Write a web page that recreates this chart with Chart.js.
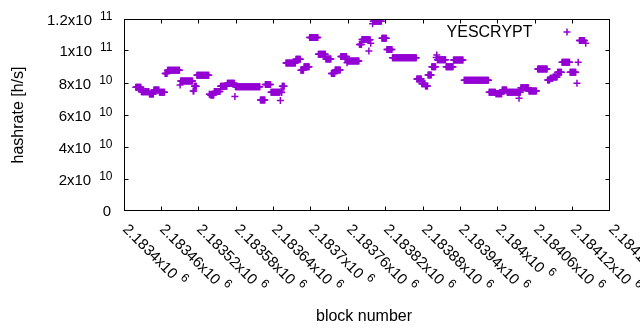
<!DOCTYPE html>
<html>
<head>
<meta charset="utf-8">
<script src="https://cdn.jsdelivr.net/npm/chart.js@4"></script>
<style>
  html, body { margin: 0; padding: 0; background: #fff; }
  canvas { display: block; }
</style>
</head>
<body>
<canvas id="chart" width="640" height="330"></canvas>
<script>
const runFirstBlock = [
  2183419, 2183428, 2183441, 2183448, 2183457, 2183466, 2183470, 2183490, 2183491, 2183511,
  2183513, 2183517, 2183537, 2183539, 2183545, 2183555, 2183566, 2183578, 2183579, 2183619,
  2183627, 2183636, 2183651, 2183652, 2183653, 2183654, 2183660, 2183676, 2183684, 2183689,
  2183698, 2183712, 2183724, 2183733, 2183739, 2183748, 2183758, 2183759, 2183778, 2183782,
  2183793, 2183794, 2183796, 2183799, 2183800, 2183814, 2183822, 2183831, 2183870, 2183878,
  2183884, 2183888, 2183894, 2183901, 2183902, 2183903, 2183917, 2183929, 2183946, 2183986,
  2183997, 2184007, 2184015, 2184034, 2184035, 2184037, 2184050, 2184064, 2184080, 2184084,
  2184089, 2184096, 2184103, 2184116, 2184127, 2184129, 2184131, 2184141
];
const runLastBlock = [
  2183427, 2183440, 2183447, 2183456, 2183465, 2183469, 2183489, 2183490, 2183510, 2183512,
  2183516, 2183536, 2183538, 2183544, 2183554, 2183565, 2183577, 2183578, 2183618, 2183626,
  2183635, 2183650, 2183651, 2183652, 2183653, 2183657, 2183675, 2183683, 2183688, 2183697,
  2183711, 2183723, 2183732, 2183738, 2183747, 2183757, 2183758, 2183777, 2183781, 2183792,
  2183793, 2183795, 2183796, 2183799, 2183813, 2183821, 2183830, 2183869, 2183877, 2183883,
  2183887, 2183893, 2183900, 2183901, 2183902, 2183916, 2183928, 2183944, 2183985, 2183996,
  2184006, 2184014, 2184033, 2184034, 2184036, 2184049, 2184062, 2184079, 2184083, 2184088,
  2184095, 2184102, 2184115, 2184125, 2184127, 2184129, 2184139, 2184141
];
const runHashrate = [
  7.73e10, 7.46e10, 7.31e10, 7.56e10, 7.42e10, 8.6e10, 8.79e10, 7.88e10, 8.13e10, 7.5e10,
  7.8e10, 8.48e10, 7.3e10, 7.25e10, 7.47e10, 7.8e10, 7.98e10, 7.15e10, 7.76e10, 6.93e10,
  7.9e10, 7.42e10, 6.9e10, 7.5e10, 7.4e10, 7.8e10, 9.25e10, 9.48e10, 8.8e10, 9.02e10,
  1.085e11, 9.79e10, 9.5e10, 8.6e10, 8.81e10, 9.65e10, 9.27e10, 9.38e10, 1.04e11, 1.072e11,
  1.0e11, 1.07e11, 1.048e11, 1.17e11, 1.186e11, 1.08e11, 1.01e11, 9.58e10, 8.25e10, 7.96e10,
  7.81e10, 8.5e10, 9.02e10, 9.6e10, 9.75e10, 9.46e10, 9.02e10, 9.44e10, 8.17e10, 7.42e10,
  7.33e10, 7.56e10, 7.42e10, 7.05e10, 7.42e10, 7.71e10, 7.5e10, 8.88e10, 8.19e10, 8.3e10,
  8.38e10, 8.67e10, 9.29e10, 8.67e10, 7.98e10, 9.29e10, 1.065e11, 1.048e11
];

const xTicks = [
  2183400, 2183460, 2183520, 2183580, 2183640, 2183700, 2183760,
  2183820, 2183880, 2183940, 2184000, 2184060, 2184120, 2184180
];
const yTicks = [0, 2e10, 4e10, 6e10, 8e10, 1e11, 1.2e11];

const seriesName = 'YESCRYPT';
const xTitle = 'block number';
const yTitle = 'hashrate [h/s]';

// one point per block
const points = [];
runFirstBlock.forEach((first, i) => {
  for (let b = first; b <= runLastBlock[i]; b++) points.push({ x: b, y: runHashrate[i] });
});

const FONT = '"Liberation Sans", Arial, sans-serif';
const PURPLE = '#9400d3';
const TICK = 4;

function sciLabel(v) {
  if (v === 0) return { base: '0', exp: '' };
  const e = Math.floor(Math.log10(Math.abs(v)) + 1e-9);
  const m = parseFloat((v / Math.pow(10, e)).toPrecision(8));
  return { base: m + 'x10', exp: String(e) };
}

// gnuplot look: closed border, inward ticks, superscript tick labels, key inside
const gnuplotFrame = {
  id: 'gnuplotFrame',
  afterDraw(chart) {
    const ctx = chart.ctx, a = chart.chartArea;
    const xs = chart.scales.x, ys = chart.scales.y;
    const left = Math.floor(a.left), right = Math.ceil(a.right) - 1;
    const top = Math.floor(a.top), bottom = Math.ceil(a.bottom) - 1;
    ctx.save();
    ctx.strokeStyle = '#000';
    ctx.lineWidth = 1;
    ctx.strokeRect(left + 0.5, top + 0.5, right - left, bottom - top);
    ctx.beginPath();
    xTicks.forEach(v => {
      const c = Math.min(Math.floor(xs.getPixelForValue(v)), right) + 0.5;
      ctx.moveTo(c, bottom + 0.5); ctx.lineTo(c, bottom + 0.5 - TICK);
      ctx.moveTo(c, top + 0.5); ctx.lineTo(c, top + 0.5 + TICK);
    });
    yTicks.forEach(v => {
      const r = Math.min(Math.floor(ys.getPixelForValue(v)), bottom) + 0.5;
      ctx.moveTo(left + 0.5, r); ctx.lineTo(left + 0.5 + TICK, r);
      ctx.moveTo(right + 0.5, r); ctx.lineTo(right + 0.5 - TICK, r);
    });
    ctx.stroke();

    ctx.fillStyle = '#000';
    const mainFont = '15px ' + FONT, supFont = '12px ' + FONT;

    // y tick labels
    ctx.textBaseline = 'alphabetic';
    ctx.textAlign = 'right';
    yTicks.forEach(v => {
      const y = Math.min(Math.floor(ys.getPixelForValue(v)), bottom);
      const lab = sciLabel(v);
      if (!lab.exp) {
        ctx.font = mainFont;
        ctx.fillText(lab.base, 111, y + 6);
        return;
      }
      ctx.font = supFont;
      const sw = ctx.measureText(lab.exp).width;
      ctx.fillText(lab.exp, 112.5, y + 1);
      ctx.font = mainFont;
      ctx.fillText(lab.base, 112.5 - sw - 8, y + 6);
    });

    // x tick labels, turned 45 degrees
    ctx.textAlign = 'left';
    xTicks.forEach(v => {
      const x = Math.floor(xs.getPixelForValue(v));
      const lab = sciLabel(v);
      ctx.save();
      ctx.translate(x - 2, 230);
      ctx.rotate(Math.PI / 4);
      ctx.font = mainFont;
      ctx.fillText(lab.base, 0, 0);
      const w = ctx.measureText(lab.base).width;
      ctx.font = supFont;
      ctx.fillText(lab.exp, w + 5, -7);
      ctx.restore();
    });

    // axis titles
    ctx.font = '16px ' + FONT;
    ctx.textAlign = 'center';
    ctx.fillText(xTitle, 364, 321);
    ctx.save();
    ctx.translate(23, 115);
    ctx.rotate(-Math.PI / 2);
    ctx.fillText(yTitle, 0, 0);
    ctx.restore();

    // key
    ctx.textAlign = 'right';
    ctx.fillText(seriesName, 532.5, 37);
    ctx.strokeStyle = PURPLE;
    ctx.lineWidth = 1.5;
    ctx.beginPath();
    ctx.moveTo(563.5, 32); ctx.lineTo(570.5, 32);
    ctx.moveTo(567, 28.5); ctx.lineTo(567, 35.5);
    ctx.stroke();
    ctx.restore();
  }
};

const chart = new Chart(document.getElementById('chart'), {
  type: 'scatter',
  data: {
    datasets: [{
      label: seriesName,
      data: points,
      pointStyle: 'cross',
      pointRadius: 3.5,
      pointHoverRadius: 3.5,
      borderWidth: 1.5,
      borderColor: PURPLE,
      backgroundColor: PURPLE
    }]
  },
  options: {
    responsive: false,
    animation: false,
    events: [],
    layout: { padding: { left: 0, top: 19, right: 30, bottom: 0 } },
    plugins: { legend: { display: false }, tooltip: { enabled: false } },
    scales: {
      x: {
        type: 'linear',
        min: xTicks[0],
        max: xTicks[xTicks.length - 1],
        afterBuildTicks: s => { s.ticks = xTicks.map(v => ({ value: v })); },
        afterFit: s => { s.height = 119; },
        ticks: { display: false },
        grid: { display: false },
        border: { display: false }
      },
      y: {
        min: yTicks[0],
        max: yTicks[yTicks.length - 1],
        afterBuildTicks: s => { s.ticks = yTicks.map(v => ({ value: v })); },
        afterFit: s => { s.width = 124; },
        ticks: { display: false },
        grid: { display: false },
        border: { display: false }
      }
    }
  },
  plugins: [gnuplotFrame]
});
</script>
</body>
</html>
